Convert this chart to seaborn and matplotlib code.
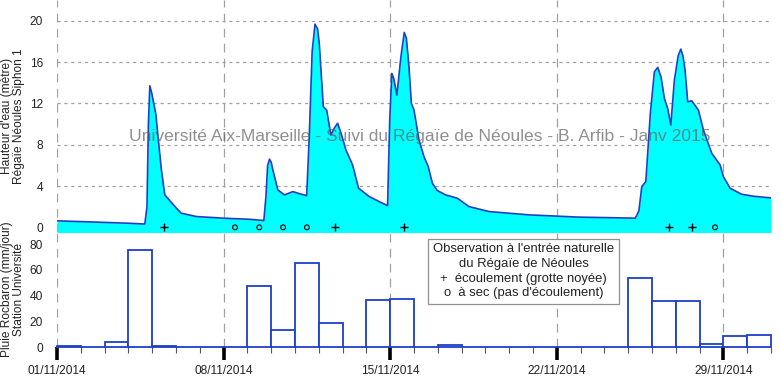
import numpy as np
import pandas as pd
import matplotlib
matplotlib.use("Agg")
import matplotlib.pyplot as plt
import seaborn as sns
from matplotlib.ticker import MultipleLocator

# -----------------------------
# Data (days since 01/11/2014)
# -----------------------------
level_day = [0, 1.5, 3.0, 3.69, 3.78, 3.84, 3.9, 3.98, 4.15, 4.3, 4.39, 4.53, 4.71, 5.0,
             5.22, 5.85, 6.97, 8.1, 8.69, 8.78, 8.85, 8.93, 9.0, 9.07, 9.28, 9.56, 9.91,
             10.2, 10.49, 10.6, 10.72, 10.84, 10.95, 11.02, 11.19, 11.33, 11.51, 11.65,
             11.79, 11.95, 12.14, 12.42, 12.67, 13.12, 13.54, 13.89, 13.98, 14.07, 14.15,
             14.28, 14.45, 14.59, 14.68, 14.79, 14.89, 15.0, 15.21, 15.42, 15.6, 15.77,
             15.98, 16.33, 16.82, 17.31, 18.15, 19.82, 21.92, 24.3, 24.45, 24.57, 24.74,
             24.93, 25.1, 25.24, 25.38, 25.52, 25.66, 25.79, 25.94, 26.1, 26.21, 26.3,
             26.39, 26.5, 26.67, 26.95, 27.16, 27.51, 27.86, 28.0, 28.28, 28.77, 29.3, 30.0]
level_m = [0.63, 0.52, 0.4, 0.32, 2.0, 10.0, 13.7, 13.0, 11.0, 7.5, 5.5, 3.14, 2.66, 1.9,
           1.37, 1.05, 0.89, 0.78, 0.66, 3.0, 6.0, 6.6, 6.3, 5.55, 3.62, 3.14, 3.46,
           3.25, 3.07, 8.8, 17.0, 19.66, 19.2, 17.8, 11.67, 11.35, 8.94, 9.6,
           10.07, 9.0, 7.49, 6.04, 3.79, 2.98, 2.49, 2.1, 10.4, 14.9, 14.4,
           12.8, 16.5, 18.86, 18.3, 15.5, 12.0, 11.35, 8.45, 6.84, 5.87, 4.27,
           3.56, 3.14, 2.82, 2.01, 1.53, 1.21, 0.99, 0.89, 1.6, 3.94, 4.43,
           11.03, 15.05, 15.48, 14.57, 12.48, 11.5, 9.9, 14.25, 16.6, 17.25, 16.6,
           15.2, 12.15, 12.25, 11.35, 9.42, 7.17, 6.04, 4.91, 3.79, 3.2, 3.0, 2.85]

rain_mm = [0.5, 0, 4, 75.5, 0.5, 0, 0, 0, 47.5, 13, 65, 19, 0, 36.3, 37,
           0, 1.5, 0, 0.3, 0, 0.3, 0, 0, 0, 53.5, 36, 36, 2, 8.5, 9.3]

obs_flow_day = [4.5, 11.7, 14.57, 25.7, 26.7]   # + écoulement
obs_dry_day = [7.48, 8.5, 9.5, 10.5, 27.65]     # o à sec

week_days = [0, 7, 14, 21, 28]
week_labels = ["01/11/2014", "08/11/2014", "15/11/2014", "22/11/2014", "29/11/2014"]

# -----------------------------
# Style
# -----------------------------
sns.set_style("white")
plt.rcParams["font.family"] = ["Liberation Sans", "DejaVu Sans"]
plt.rcParams["font.size"] = 8.6

cyan = "#00FFFF"
blue = "#1f3fc8"
grid_grey = "#a0a0a0"
txt = "#222222"

fig = plt.figure(figsize=(7.81, 3.78), dpi=100)
ax1 = fig.add_axes([57 / 781, 146 / 378, 714 / 781, 232 / 378])
ax2 = fig.add_axes([57 / 781, 31 / 378, 714 / 781, 115 / 378])

for ax in (ax1, ax2):
    for s in ax.spines.values():
        s.set_visible(False)
    ax.set_xlim(0, 30)
    ax.set_facecolor("none")
    for d in week_days:
        ax.axvline(d, color=grid_grey, lw=0.9, ls=(0, (7, 5)), zorder=0)
    ax.tick_params(axis="y", which="major", direction="out", length=6, width=0.8,
                   color="#555555", labelcolor=txt, labelsize=8.6, pad=4)
    ax.tick_params(axis="y", which="minor", direction="out", length=3.5, width=0.8,
                   color="#555555")

# -----------------------------
# Top: water level
# -----------------------------
ax1.set_ylim(-0.45, 22)
ax1.yaxis.set_major_locator(MultipleLocator(4))
ax1.yaxis.set_minor_locator(MultipleLocator(2))
ax1.set_yticks([0, 4, 8, 12, 16, 20])
for v in [4, 8, 12, 16, 20]:
    ax1.axhline(v, color=grid_grey, lw=0.9, ls=(0, (2.5, 3)), zorder=0)
ax1.fill_between(level_day, level_m, -1, color=cyan, lw=0, zorder=1)
sns.lineplot(x=level_day, y=level_m, ax=ax1, color=blue, lw=1.2, zorder=2)
sns.scatterplot(x=obs_flow_day, y=[0] * len(obs_flow_day), ax=ax1, marker="+",
                color="black", s=28, linewidth=1.0, zorder=3)
sns.scatterplot(x=obs_dry_day, y=[0] * len(obs_dry_day), ax=ax1, marker="o",
                facecolor="none", edgecolor="black", s=12, linewidth=0.8, zorder=3)
ax1.set_xticks([])
ax1.set_xlabel("")
ax1.set_ylabel("Hauteur d'eau (mètre)\nRégaïe Néoules Siphon 1", color=txt,
               fontsize=8.6, linespacing=1.0)
ax1.yaxis.set_label_coords(-0.045, 0.5)
ax1.text(15.25, 8.8, "Université Aix-Marseille - Suivi du Régaïe de Néoules - B. Arfib - Janv 2015",
         ha="center", va="center", fontsize=12.6, color="#606060", alpha=0.7, zorder=4)

# -----------------------------
# Bottom: daily rain
# -----------------------------
ax2.set_ylim(0, 89.5)
ax2.yaxis.set_major_locator(MultipleLocator(20))
ax2.yaxis.set_minor_locator(MultipleLocator(10))
ax2.bar(np.arange(len(rain_mm)), rain_mm, width=1.0, align="edge", facecolor="white",
        edgecolor=blue, linewidth=1.3, zorder=2, clip_on=False)
ax2.set_xticks(week_days)
ax2.set_xticklabels(week_labels)
ax2.set_xticks(np.arange(0, 31), minor=True)
ax2.tick_params(axis="x", which="major", direction="out", length=9, width=2.6,
                color="black", labelcolor=txt, labelsize=8.6, pad=4, bottom=True)
ax2.tick_params(axis="x", which="minor", direction="out", length=4.5, width=0.8,
                color="#555555", bottom=True)
ax2.set_ylabel("Pluie Rocbaron (mm/jour)\nStation Université", color=txt,
               fontsize=8.6, linespacing=1.0)
ax2.yaxis.set_label_coords(-0.045, 0.5)

ax2.text(19.6, 59,
         "Observation à l'entrée naturelle\ndu Régaïe de Néoules\n"
         "+  écoulement (grotte noyée)\no  à sec (pas d'écoulement)",
         ha="center", va="center", multialignment="center", fontsize=9.4, color=txt,
         linespacing=1.3, zorder=5,
         bbox=dict(boxstyle="square,pad=0.35", facecolor="white", edgecolor="#909090", lw=0.9))

fig.savefig("out.png", dpi=100)
